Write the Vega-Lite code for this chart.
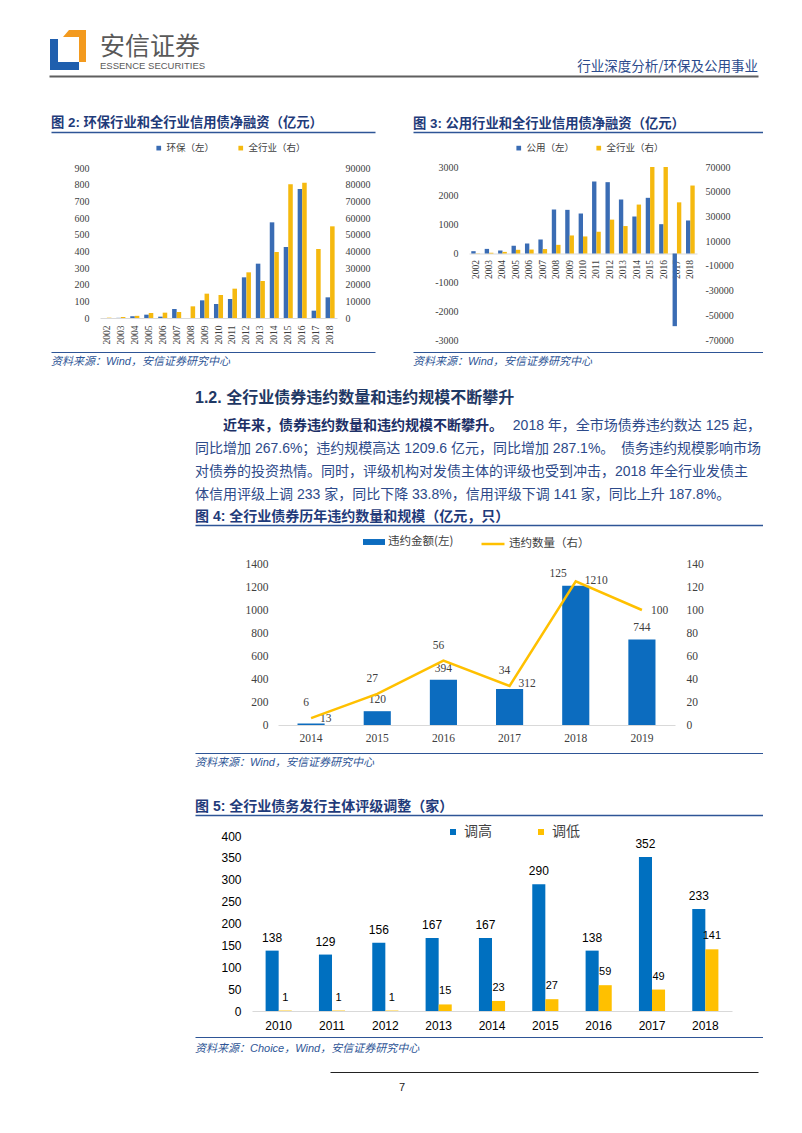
{
 "$schema": "https://vega.github.io/schema/vega-lite/v6.json",
 "background": "white",
 "padding": 0,
 "config": {
  "view": {"stroke": null},
  "axis": {"ticks": false, "grid": false, "domain": false},
  "legend": {"padding": 0},
  "title": {"frame": "group"}
 },
 "datasets": {
  "c2": [
   {"year":"2002","series":"环保（左）","value":0},{"year":"2003","series":"环保（左）","value":1},{"year":"2004","series":"环保（左）","value":10},{"year":"2005","series":"环保（左）","value":20},{"year":"2006","series":"环保（左）","value":8},{"year":"2007","series":"环保（左）","value":54},{"year":"2008","series":"环保（左）","value":0},{"year":"2009","series":"环保（左）","value":106},{"year":"2010","series":"环保（左）","value":84},{"year":"2011","series":"环保（左）","value":114},{"year":"2012","series":"环保（左）","value":244},{"year":"2013","series":"环保（左）","value":326},{"year":"2014","series":"环保（左）","value":574},{"year":"2015","series":"环保（左）","value":426},{"year":"2016","series":"环保（左）","value":774},{"year":"2017","series":"环保（左）","value":44},{"year":"2018","series":"环保（左）","value":124},
   {"year":"2002","series":"全行业（右）","value":200},{"year":"2003","series":"全行业（右）","value":600},{"year":"2004","series":"全行业（右）","value":1300},{"year":"2005","series":"全行业（右）","value":3000},{"year":"2006","series":"全行业（右）","value":3200},{"year":"2007","series":"全行业（右）","value":3600},{"year":"2008","series":"全行业（右）","value":7000},{"year":"2009","series":"全行业（右）","value":14600},{"year":"2010","series":"全行业（右）","value":13800},{"year":"2011","series":"全行业（右）","value":17600},{"year":"2012","series":"全行业（右）","value":27400},{"year":"2013","series":"全行业（右）","value":22200},{"year":"2014","series":"全行业（右）","value":39600},{"year":"2015","series":"全行业（右）","value":80200},{"year":"2016","series":"全行业（右）","value":81200},{"year":"2017","series":"全行业（右）","value":41400},{"year":"2018","series":"全行业（右）","value":55000}
  ],
  "c3": [
   {"year":"2002","series":"公用（左）","value":80},{"year":"2003","series":"公用（左）","value":160},{"year":"2004","series":"公用（左）","value":104},{"year":"2005","series":"公用（左）","value":266},{"year":"2006","series":"公用（左）","value":347},{"year":"2007","series":"公用（左）","value":486},{"year":"2008","series":"公用（左）","value":1526},{"year":"2009","series":"公用（左）","value":1514},{"year":"2010","series":"公用（左）","value":1387},{"year":"2011","series":"公用（左）","value":2497},{"year":"2012","series":"公用（左）","value":2474},{"year":"2013","series":"公用（左）","value":1873},{"year":"2014","series":"公用（左）","value":1283},{"year":"2015","series":"公用（左）","value":1931},{"year":"2016","series":"公用（左）","value":1017},{"year":"2017","series":"公用（左）","value":-2520},{"year":"2018","series":"公用（左）","value":1145},
   {"year":"2002","series":"全行业（右）","value":200},{"year":"2003","series":"全行业（右）","value":600},{"year":"2004","series":"全行业（右）","value":1300},{"year":"2005","series":"全行业（右）","value":3000},{"year":"2006","series":"全行业（右）","value":3200},{"year":"2007","series":"全行业（右）","value":3600},{"year":"2008","series":"全行业（右）","value":7000},{"year":"2009","series":"全行业（右）","value":14600},{"year":"2010","series":"全行业（右）","value":13800},{"year":"2011","series":"全行业（右）","value":17600},{"year":"2012","series":"全行业（右）","value":27400},{"year":"2013","series":"全行业（右）","value":22200},{"year":"2014","series":"全行业（右）","value":39600},{"year":"2015","series":"全行业（右）","value":80200},{"year":"2016","series":"全行业（右）","value":81200},{"year":"2017","series":"全行业（右）","value":41400},{"year":"2018","series":"全行业（右）","value":55000}
  ],
  "c4": [
   {"year":"2014","amount":13,"count":6},
   {"year":"2015","amount":120,"count":27},
   {"year":"2016","amount":394,"count":56},
   {"year":"2017","amount":312,"count":34},
   {"year":"2018","amount":1210,"count":125},
   {"year":"2019","amount":744,"count":100}
  ],
  "c5": [
   {"year":"2010","series":"调高","value":138},{"year":"2011","series":"调高","value":129},{"year":"2012","series":"调高","value":156},{"year":"2013","series":"调高","value":167},{"year":"2014","series":"调高","value":167},{"year":"2015","series":"调高","value":290},{"year":"2016","series":"调高","value":138},{"year":"2017","series":"调高","value":352},{"year":"2018","series":"调高","value":233},
   {"year":"2010","series":"调低","value":1},{"year":"2011","series":"调低","value":1},{"year":"2012","series":"调低","value":1},{"year":"2013","series":"调低","value":15},{"year":"2014","series":"调低","value":23},{"year":"2015","series":"调低","value":27},{"year":"2016","series":"调低","value":59},{"year":"2017","series":"调低","value":49},{"year":"2018","series":"调低","value":141}
  ],
  "para": [
   {"line":1,"part":1,"text":"近年来，债券违约数量和违约规模不断攀升。"},
   {"line":1,"part":2,"text":"2018 年，全市场债券违约数达 125 起，"},
   {"line":2,"part":1,"text":"同比增加 267.6%；违约规模高达 1209.6 亿元，同比增加 287.1%。"},
   {"line":2,"part":2,"text":"债务违约规模影响市场"},
   {"line":3,"part":1,"text":"对债券的投资热情。同时，评级机构对发债主体的评级也受到冲击，2018 年全行业发债主"},
   {"line":4,"part":1,"text":"体信用评级上调 233 家，同比下降 33.8%，信用评级下调 141 家，同比上升 187.8%。"}
  ]
 },
 "spacing": 0,
 "bounds": "flush",
 "resolve": {
  "scale": {"color": "independent", "stroke": "independent", "xOffset": "independent"},
  "legend": {"color": "independent", "stroke": "independent"}
 },
 "vconcat": [
  {"width": 1, "height": 75, "data": {"values": [{}]}, "mark": {"type": "point", "opacity": 0}, "encoding": {}},

  {"width": 755, "height": 1, "data": {"values": [{}]}, "mark": {"type": "point", "opacity": 0},
   "encoding": {"x": {"datum": 0, "type": "quantitative", "scale": {"domain": [0, 1], "range": [46, 755], "nice": false, "zero": false},
    "axis": {"orient": "bottom", "domain": true, "domainColor": "#5f5f5f", "domainWidth": 2, "labels": false, "ticks": false, "grid": false, "title": null}}},
   "title": {"text": "行业深度分析/环保及公用事业", "orient": "top", "anchor": "end", "offset": -1,
    "font": "Noto Sans CJK SC", "fontSize": 13.5, "fontWeight": "normal", "color": "#2b4a8c"}},

  {"width": 755, "height": 1, "data": {"values": [{}]}, "mark": {"type": "point", "opacity": 0}, "encoding": {},
   "title": {"text": "安信证券", "subtitle": "ESSENCE SECURITIES", "orient": "top", "anchor": "start", "dx": 97, "offset": 3,
    "font": "Noto Sans CJK SC", "fontSize": 25, "fontWeight": "normal", "color": "#595959",
    "subtitleFont": "Liberation Sans", "subtitleFontSize": 9.5, "subtitleColor": "#595959", "subtitlePadding": 1}},

  {"width": 129, "height": 1, "data": {"values": [{"part": "orange"}, {"part": "blue"}]},
   "layer": [
    {"transform": [{"filter": "datum.part === 'orange'"}],
     "mark": {"type": "point", "shape": "M0.071,-2.262L0.881,-2.262L0.881,-0.738L0.548,-0.738L0.548,-1.929L-0.214,-1.929Z", "size": 1764, "filled": true, "color": "#f39a1e", "opacity": 1, "strokeWidth": 0},
     "encoding": {}},
    {"transform": [{"filter": "datum.part === 'blue'"}],
     "mark": {"type": "point", "shape": "M-0.833,-1.833L-0.452,-1.833L-0.452,-0.738L0.548,-0.738L0.548,-0.357L-0.833,-0.357Z", "size": 1764, "filled": true, "color": "#1f5fae", "opacity": 1, "strokeWidth": 0},
     "encoding": {}}
   ]},

  {"width": 1, "height": 54, "data": {"values": [{}]}, "mark": {"type": "point", "opacity": 0}, "encoding": {}},

  {"width": 760, "height": 1, "data": {"values": [{}]}, "mark": {"type": "point", "opacity": 0},
   "encoding": {"x": {"datum": 0, "type": "quantitative", "scale": {"domain": [0, 1], "range": [48, 372], "nice": false, "zero": false},
    "axis": {"orient": "top", "domain": true, "domainColor": "#2e5596", "domainWidth": 1.5, "labels": false, "ticks": false, "grid": false, "title": null}}},
   "title": {"text": "图 2: 环保行业和全行业信用债净融资（亿元）", "orient": "top", "anchor": "start", "dx": 48, "offset": 0,
    "font": "Liberation Sans, Noto Sans CJK SC", "fontSize": 13.3, "fontWeight": "bold", "color": "#1f3b7a"}},

  {"width": 760, "height": 1, "data": {"values": [{}]}, "mark": {"type": "point", "opacity": 0},
   "encoding": {"x": {"datum": 0, "type": "quantitative", "scale": {"domain": [0, 1], "range": [410, 760], "nice": false, "zero": false},
    "axis": {"orient": "top", "offset": 1, "domain": true, "domainColor": "#2e5596", "domainWidth": 1.5, "labels": false, "ticks": false, "grid": false, "title": null}}},
   "title": {"text": "图 3: 公用行业和全行业信用债净融资（亿元）", "orient": "top", "anchor": "start", "dx": 410, "offset": 0,
    "font": "Liberation Sans, Noto Sans CJK SC", "fontSize": 13.3, "fontWeight": "bold", "color": "#1f3b7a"}},

  {"width": 1, "height": 33, "data": {"values": [{}]}, "mark": {"type": "point", "opacity": 0}, "encoding": {}},

  {"width": 694, "height": 173,
   "data": {"name": "c3"},
   "encoding": {
    "x": {"field": "year", "type": "ordinal", "title": null,
     "scale": {"range": [466, 694], "paddingInner": 0.35, "paddingOuter": 0.17},
     "axis": {"orient": "bottom", "offset": -86.5, "labelAngle": -90, "labelFont": "Liberation Serif", "labelFontSize": 9.5, "labelColor": "#404040", "labelPadding": 6, "domain": true, "domainColor": "#d9d9d9", "ticks": false}},
    "xOffset": {"field": "series", "type": "nominal", "scale": {"domain": ["公用（左）", "全行业（右）"]}},
    "color": {"field": "series", "type": "nominal",
     "scale": {"domain": ["公用（左）", "全行业（右）"], "range": ["#3a6cb4", "#f5b90f"]},
     "legend": {"orient": "none", "legendX": 511, "legendY": -24, "direction": "horizontal", "title": null, "symbolType": "square", "symbolSize": 22, "symbolStrokeWidth": 0,
      "labelFont": "Noto Sans CJK SC", "labelFontSize": 9.5, "labelColor": "#404040", "columnPadding": 19, "labelOffset": 3, "padding": 0}}
   },
   "layer": [
    {"transform": [{"filter": {"field": "series", "equal": "公用（左）"}}],
     "mark": {"type": "bar"},
     "encoding": {"y": {"field": "value", "type": "quantitative", "scale": {"domain": [-3000, 3000], "nice": false},
      "axis": {"orient": "left", "offset": -466, "title": null, "values": [-3000,-2000,-1000,0,1000,2000,3000], "labelExpr": "'' + datum.value", "labelFont": "Liberation Serif", "labelFontSize": 10, "labelColor": "#404040", "labelPadding": 11}}}},
    {"transform": [{"filter": {"field": "series", "equal": "全行业（右）"}}],
     "mark": {"type": "bar", "clip": true},
     "encoding": {"y": {"field": "value", "type": "quantitative", "scale": {"domain": [-70000, 70000], "nice": false},
      "axis": {"orient": "right", "title": null, "values": [-70000,-50000,-30000,-10000,10000,30000,50000,70000], "labelExpr": "'' + datum.value", "labelFont": "Liberation Serif", "labelFontSize": 10, "labelColor": "#404040", "labelPadding": 8}}}}
   ],
   "resolve": {"scale": {"y": "independent"}}
  },

  {"width": 334, "height": 1,
   "data": {"name": "c2"},
   "encoding": {
    "x": {"field": "year", "type": "ordinal", "title": null,
     "scale": {"range": [97, 334], "paddingInner": 0.35, "paddingOuter": 0.17},
     "axis": {"orient": "bottom", "offset": -23, "labelAngle": -90, "labelFont": "Liberation Serif", "labelFontSize": 9.5, "labelColor": "#404040", "labelPadding": 7, "domain": true, "domainColor": "#d9d9d9", "ticks": false}},
    "xOffset": {"field": "series", "type": "nominal", "scale": {"domain": ["环保（左）", "全行业（右）"]}},
    "color": {"field": "series", "type": "nominal",
     "scale": {"domain": ["环保（左）", "全行业（右）"], "range": ["#3a6cb4", "#f5b90f"]},
     "legend": {"orient": "none", "legendX": 151, "legendY": -197, "direction": "horizontal", "title": null, "symbolType": "square", "symbolSize": 22, "symbolStrokeWidth": 0,
      "labelFont": "Noto Sans CJK SC", "labelFontSize": 9.5, "labelColor": "#404040", "columnPadding": 21, "labelOffset": 3, "padding": 0}}
   },
   "layer": [
    {"transform": [{"filter": {"field": "series", "equal": "环保（左）"}}],
     "mark": {"type": "bar"},
     "encoding": {"y": {"field": "value", "type": "quantitative", "scale": {"domain": [0, 900], "range": [-22, -172], "nice": false},
      "axis": {"orient": "left", "offset": -97, "title": null, "values": [0,100,200,300,400,500,600,700,800,900], "format": "d", "labelFont": "Liberation Serif", "labelFontSize": 10, "labelColor": "#404040", "labelPadding": 11}}}},
    {"transform": [{"filter": {"field": "series", "equal": "全行业（右）"}}],
     "mark": {"type": "bar"},
     "encoding": {"y": {"field": "value", "type": "quantitative", "scale": {"domain": [0, 90000], "range": [-22, -172], "nice": false},
      "axis": {"orient": "right", "title": null, "values": [0,10000,20000,30000,40000,50000,60000,70000,80000,90000], "format": "d", "labelFont": "Liberation Serif", "labelFontSize": 10, "labelColor": "#404040", "labelPadding": 8}}}}
   ],
   "resolve": {"scale": {"y": "independent"}}
  },

  {"width": 1, "height": 11, "data": {"values": [{}]}, "mark": {"type": "point", "opacity": 0}, "encoding": {}},

  {"width": 760, "height": 1, "data": {"values": [{}]}, "mark": {"type": "point", "opacity": 0},
   "encoding": {"x": {"datum": 0, "type": "quantitative", "scale": {"domain": [0, 1], "range": [48, 372], "nice": false, "zero": false},
    "axis": {"orient": "top", "domain": true, "domainColor": "#2e5596", "domainWidth": 1, "labels": false, "ticks": false, "grid": false, "title": null}}},
   "title": {"text": "资料来源：Wind，安信证券研究中心", "orient": "bottom", "anchor": "start", "dx": 48, "offset": 1,
    "font": "Liberation Sans, Noto Sans CJK SC", "fontSize": 11, "fontStyle": "italic", "fontWeight": "normal", "color": "#2e5596"}},

  {"width": 760, "height": 1, "data": {"values": [{}]}, "mark": {"type": "point", "opacity": 0},
   "encoding": {"x": {"datum": 0, "type": "quantitative", "scale": {"domain": [0, 1], "range": [410, 760], "nice": false, "zero": false},
    "axis": {"orient": "top", "offset": 1, "domain": true, "domainColor": "#2e5596", "domainWidth": 1, "labels": false, "ticks": false, "grid": false, "title": null}}},
   "title": {"text": "资料来源：Wind，安信证券研究中心", "orient": "bottom", "anchor": "start", "dx": 410, "offset": 0,
    "font": "Liberation Sans, Noto Sans CJK SC", "fontSize": 11, "fontStyle": "italic", "fontWeight": "normal", "color": "#2e5596"}},

  {"width": 1, "height": 60, "data": {"values": [{}]}, "mark": {"type": "point", "opacity": 0}, "encoding": {}},

  {"width": 758, "height": 92,
   "data": {"name": "para"},
   "title": {"text": "1.2. 全行业债券违约数量和违约规模不断攀升", "orient": "top", "anchor": "start", "dx": 192, "offset": 8,
    "font": "Liberation Sans, Noto Sans CJK SC", "fontSize": 16, "fontWeight": "bold", "color": "#1f3864"},
   "encoding": {"y": {"field": "line", "type": "ordinal", "axis": null, "scale": {"type": "point", "padding": 0.5}}},
   "layer": [
    {"transform": [{"filter": "datum.line === 1 && datum.part === 1"}],
     "mark": {"type": "text", "align": "left", "baseline": "middle", "dx": 28, "font": "Liberation Sans, Noto Sans CJK SC", "fontSize": 14, "fontWeight": "bold", "color": "#1c2f66"},
     "encoding": {"x": {"datum": 0, "type": "quantitative", "scale": {"domain": [0, 1], "range": [192, 758], "nice": false, "zero": false}, "axis": null}, "text": {"field": "text"}}},
    {"transform": [{"filter": "datum.line !== 1 && datum.part === 1"}],
     "mark": {"type": "text", "align": "left", "baseline": "middle", "font": "Liberation Sans, Noto Sans CJK SC", "fontSize": 14, "color": "#2d4a8a"},
     "encoding": {"x": {"datum": 0, "type": "quantitative", "scale": {"domain": [0, 1], "range": [192, 758], "nice": false, "zero": false}, "axis": null}, "text": {"field": "text"}}},
    {"transform": [{"filter": "datum.part === 2"}],
     "mark": {"type": "text", "align": "right", "baseline": "middle", "font": "Liberation Sans, Noto Sans CJK SC", "fontSize": 14, "color": "#2d4a8a"},
     "encoding": {"x": {"datum": 1, "type": "quantitative", "scale": {"domain": [0, 1], "range": [192, 758], "nice": false, "zero": false}, "axis": null}, "text": {"field": "text"}}}
   ]},

  {"width": 1, "height": 19, "data": {"values": [{}]}, "mark": {"type": "point", "opacity": 0}, "encoding": {}},

  {"width": 760, "height": 1, "data": {"values": [{}]}, "mark": {"type": "point", "opacity": 0},
   "encoding": {"x": {"datum": 0, "type": "quantitative", "scale": {"domain": [0, 1], "range": [192, 760], "nice": false, "zero": false},
    "axis": {"orient": "top", "domain": true, "domainColor": "#2e5596", "domainWidth": 1.5, "labels": false, "ticks": false, "grid": false, "title": null}}},
   "title": {"text": "图 4: 全行业债券历年违约数量和规模（亿元，只）", "orient": "top", "anchor": "start", "dx": 192, "offset": -1,
    "font": "Liberation Sans, Noto Sans CJK SC", "fontSize": 14, "fontWeight": "bold", "color": "#1f3b7a"}},

  {"width": 1, "height": 38, "data": {"values": [{}]}, "mark": {"type": "point", "opacity": 0}, "encoding": {}},

  {"width": 672, "height": 161,
   "data": {"name": "c4"},
   "encoding": {
    "x": {"field": "year", "type": "ordinal", "title": null,
     "scale": {"range": [275, 672], "paddingInner": 0.59, "paddingOuter": 0.295},
     "axis": {"labelAngle": 0, "labelFont": "Liberation Serif", "labelFontSize": 11.5, "labelColor": "#404040", "labelPadding": 7, "domain": true, "domainColor": "#d9d9d9", "ticks": false}}
   },
   "layer": [
    {"encoding": {"y": {"field": "amount", "type": "quantitative", "scale": {"domain": [0, 1400], "nice": false},
      "axis": {"orient": "left", "offset": -275, "title": null, "values": [0,200,400,600,800,1000,1200,1400], "format": "d", "labelFont": "Liberation Serif", "labelFontSize": 11.5, "labelColor": "#404040", "labelPadding": 10}}},
     "layer": [
      {"mark": {"type": "bar"},
       "encoding": {"color": {"datum": "违约金额(左)", "type": "nominal", "scale": {"range": ["#0c6cbf"]},
        "legend": {"orient": "none", "legendX": 360, "legendY": -33, "title": null, "symbolType": "M-1,-0.27H1V0.27H-1Z", "symbolSize": 484, "symbolStrokeWidth": 0,
         "labelFont": "Noto Sans CJK SC", "labelFontSize": 11.5, "labelColor": "#404040", "labelOffset": 3, "padding": 0}}}},
      {"transform": [{"filter": {"field": "year", "oneOf": ["2015", "2016", "2019"]}}],
       "mark": {"type": "text", "baseline": "middle", "dy": -11, "font": "Liberation Serif", "fontSize": 11.5, "color": "#404040"},
       "encoding": {"text": {"field": "amount", "type": "quantitative", "format": "d"}}},
      {"transform": [{"filter": {"field": "year", "oneOf": ["2014", "2017", "2018"]}}],
       "mark": {"type": "text", "baseline": "middle", "align": "left", "dx": 9, "dy": -5, "font": "Liberation Serif", "fontSize": 11.5, "color": "#404040"},
       "encoding": {"text": {"field": "amount", "type": "quantitative", "format": "d"}}}
     ]},
    {"encoding": {"y": {"field": "count", "type": "quantitative", "scale": {"domain": [0, 140], "nice": false},
      "axis": {"orient": "right", "title": null, "values": [0,20,40,60,80,100,120,140], "format": "d", "labelFont": "Liberation Serif", "labelFontSize": 11.5, "labelColor": "#404040", "labelPadding": 11}}},
     "layer": [
      {"mark": {"type": "line", "strokeWidth": 2.5},
       "encoding": {"stroke": {"datum": "违约数量（右）", "type": "nominal", "scale": {"range": ["#ffc000"]},
        "legend": {"orient": "none", "legendX": 477, "legendY": -33, "title": null, "symbolType": "stroke", "symbolSize": 529, "symbolStrokeWidth": 2.5,
         "labelFont": "Noto Sans CJK SC", "labelFontSize": 11.5, "labelColor": "#404040", "labelOffset": 3, "padding": 0}}}},
      {"transform": [{"filter": {"field": "year", "oneOf": ["2014", "2015", "2016", "2017"]}}],
       "mark": {"type": "text", "baseline": "middle", "dx": -5, "dy": -15, "font": "Liberation Serif", "fontSize": 11.5, "color": "#404040"},
       "encoding": {"text": {"field": "count", "type": "quantitative", "format": "d"}}},
      {"transform": [{"filter": {"field": "year", "equal": "2018"}}],
       "mark": {"type": "text", "baseline": "middle", "align": "right", "dx": -9, "dy": -7, "font": "Liberation Serif", "fontSize": 11.5, "color": "#404040"},
       "encoding": {"text": {"field": "count", "type": "quantitative", "format": "d"}}},
      {"transform": [{"filter": {"field": "year", "equal": "2019"}}],
       "mark": {"type": "text", "baseline": "middle", "align": "left", "dx": 9, "dy": 1, "font": "Liberation Serif", "fontSize": 11.5, "color": "#404040"},
       "encoding": {"text": {"field": "count", "type": "quantitative", "format": "d"}}}
     ]}
   ],
   "resolve": {"scale": {"y": "independent"}}
  },

  {"width": 1, "height": 28, "data": {"values": [{}]}, "mark": {"type": "point", "opacity": 0}, "encoding": {}},

  {"width": 760, "height": 1, "data": {"values": [{}]}, "mark": {"type": "point", "opacity": 0},
   "encoding": {"x": {"datum": 0, "type": "quantitative", "scale": {"domain": [0, 1], "range": [192, 760], "nice": false, "zero": false},
    "axis": {"orient": "top", "domain": true, "domainColor": "#2e5596", "domainWidth": 1, "labels": false, "ticks": false, "grid": false, "title": null}}},
   "title": {"text": "资料来源：Wind，安信证券研究中心", "orient": "bottom", "anchor": "start", "dx": 192, "offset": 1,
    "font": "Liberation Sans, Noto Sans CJK SC", "fontSize": 11, "fontStyle": "italic", "fontWeight": "normal", "color": "#2e5596"}},

  {"width": 1, "height": 61, "data": {"values": [{}]}, "mark": {"type": "point", "opacity": 0}, "encoding": {}},

  {"width": 760, "height": 1, "data": {"values": [{}]}, "mark": {"type": "point", "opacity": 0},
   "encoding": {"x": {"datum": 0, "type": "quantitative", "scale": {"domain": [0, 1], "range": [192, 760], "nice": false, "zero": false},
    "axis": {"orient": "top", "domain": true, "domainColor": "#2e5596", "domainWidth": 1.5, "labels": false, "ticks": false, "grid": false, "title": null}}},
   "title": {"text": "图 5: 全行业债务发行主体评级调整（家）", "orient": "top", "anchor": "start", "dx": 192, "offset": -1,
    "font": "Liberation Sans, Noto Sans CJK SC", "fontSize": 14, "fontWeight": "bold", "color": "#1f3b7a"}},

  {"width": 1, "height": 20, "data": {"values": [{}]}, "mark": {"type": "point", "opacity": 0}, "encoding": {}},

  {"width": 729, "height": 175,
   "data": {"name": "c5"},
   "encoding": {
    "x": {"field": "year", "type": "ordinal", "title": null,
     "scale": {"range": [249, 729], "paddingInner": 0.51, "paddingOuter": 0.255},
     "axis": {"labelAngle": 0, "labelFont": "Liberation Sans", "labelFontSize": 12, "labelColor": "#000000", "labelPadding": 9, "domain": true, "domainColor": "#d9d9d9", "ticks": false}},
    "xOffset": {"field": "series", "type": "nominal", "scale": {"domain": ["调高", "调低"]}},
    "y": {"field": "value", "type": "quantitative", "scale": {"domain": [0, 400], "nice": false},
     "axis": {"offset": -249, "title": null, "values": [0,50,100,150,200,250,300,350,400], "format": "d", "labelFont": "Liberation Sans", "labelFontSize": 12, "labelColor": "#000000", "labelPadding": 11}}
   },
   "layer": [
    {"mark": {"type": "bar"},
     "encoding": {"color": {"field": "series", "type": "nominal", "scale": {"domain": ["调高", "调低"], "range": ["#0070c0", "#ffc000"]},
      "legend": {"orient": "none", "legendX": 443, "legendY": -11, "direction": "horizontal", "title": null, "symbolType": "square", "symbolSize": 36, "symbolStrokeWidth": 0,
       "labelFont": "Noto Sans CJK SC", "labelFontSize": 14, "labelColor": "#404040", "columnPadding": 42, "labelOffset": 4, "padding": 0}}}},
    {"transform": [{"filter": {"field": "series", "equal": "调高"}}],
     "mark": {"type": "text", "baseline": "middle", "dy": -13, "font": "Liberation Sans", "fontSize": 12, "color": "#000000"},
     "encoding": {"text": {"field": "value", "type": "quantitative", "format": "d"}}},
    {"transform": [{"filter": {"field": "series", "equal": "调低"}}],
     "mark": {"type": "text", "baseline": "middle", "dy": -13, "font": "Liberation Sans", "fontSize": 11, "color": "#000000"},
     "encoding": {"text": {"field": "value", "type": "quantitative", "format": "d"}}}
   ]
  },

  {"width": 1, "height": 26, "data": {"values": [{}]}, "mark": {"type": "point", "opacity": 0}, "encoding": {}},

  {"width": 760, "height": 1, "data": {"values": [{}]}, "mark": {"type": "point", "opacity": 0},
   "encoding": {"x": {"datum": 0, "type": "quantitative", "scale": {"domain": [0, 1], "range": [192, 760], "nice": false, "zero": false},
    "axis": {"orient": "top", "domain": true, "domainColor": "#2e5596", "domainWidth": 1, "labels": false, "ticks": false, "grid": false, "title": null}}},
   "title": {"text": "资料来源：Choice，Wind，安信证券研究中心", "orient": "bottom", "anchor": "start", "dx": 192, "offset": 3,
    "font": "Liberation Sans, Noto Sans CJK SC", "fontSize": 11, "fontStyle": "italic", "fontWeight": "normal", "color": "#2e5596"}},

  {"width": 1, "height": 34, "data": {"values": [{}]}, "mark": {"type": "point", "opacity": 0}, "encoding": {}},

  {"width": 755, "height": 1, "data": {"values": [{}]}, "mark": {"type": "point", "opacity": 0},
   "encoding": {"x": {"datum": 0, "type": "quantitative", "scale": {"domain": [0, 1], "range": [327, 755], "nice": false, "zero": false},
    "axis": {"orient": "top", "domain": true, "domainColor": "#222222", "domainWidth": 1, "labels": false, "ticks": false, "grid": false, "title": null}}},
   "title": {"text": "7", "orient": "bottom", "anchor": "start", "dx": 396, "offset": 7,
    "font": "Liberation Sans", "fontSize": 11, "fontWeight": "normal", "color": "#222222"}}
 ]
}
